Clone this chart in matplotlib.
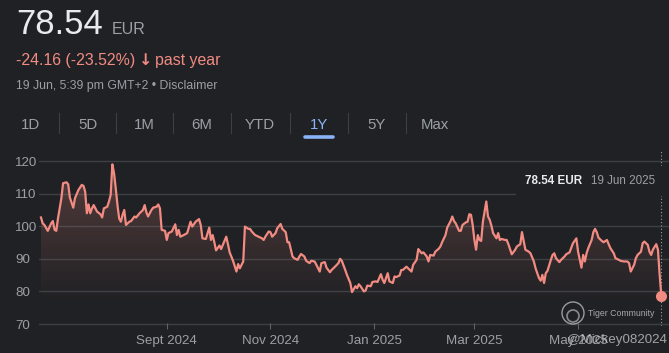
import numpy as np
import pandas as pd
import matplotlib
matplotlib.use('Agg')
import matplotlib.pyplot as plt
import matplotlib.dates as mdates
from matplotlib.patches import Rectangle, Circle

# price history (EUR)
dates = [
    '2024-06-19', '2024-06-20', '2024-06-21', '2024-06-23', '2024-06-25', '2024-06-26', '2024-06-27', '2024-06-28', '2024-06-29',
    '2024-07-01', '2024-07-02', '2024-07-04', '2024-07-05', '2024-07-06', '2024-07-08', '2024-07-09', '2024-07-11', '2024-07-13',
    '2024-07-14', '2024-07-15', '2024-07-16', '2024-07-17', '2024-07-18', '2024-07-19', '2024-07-20', '2024-07-22', '2024-07-24',
    '2024-07-25', '2024-07-26', '2024-07-28', '2024-07-29', '2024-07-30', '2024-07-31',
    '2024-08-01', '2024-08-02', '2024-08-03', '2024-08-04', '2024-08-05', '2024-08-06', '2024-08-07', '2024-08-08', '2024-08-10',
    '2024-08-11', '2024-08-13', '2024-08-14', '2024-08-16', '2024-08-18', '2024-08-19', '2024-08-20', '2024-08-21', '2024-08-23',
    '2024-08-24', '2024-08-26', '2024-08-27', '2024-08-28', '2024-08-29', '2024-08-31',
    '2024-09-01', '2024-09-02', '2024-09-04', '2024-09-06', '2024-09-07', '2024-09-08', '2024-09-09', '2024-09-11', '2024-09-13',
    '2024-09-15', '2024-09-16', '2024-09-18', '2024-09-20', '2024-09-21', '2024-09-22', '2024-09-24', '2024-09-26', '2024-09-27',
    '2024-09-28', '2024-09-29', '2024-09-30',
    '2024-10-02', '2024-10-03', '2024-10-04', '2024-10-06', '2024-10-07', '2024-10-08', '2024-10-10', '2024-10-12', '2024-10-13',
    '2024-10-14', '2024-10-16', '2024-10-17', '2024-10-19', '2024-10-20', '2024-10-21', '2024-10-23', '2024-10-25', '2024-10-27',
    '2024-10-28', '2024-10-29', '2024-10-31',
    '2024-11-01', '2024-11-02', '2024-11-04', '2024-11-05', '2024-11-07', '2024-11-08', '2024-11-10', '2024-11-11', '2024-11-12',
    '2024-11-14', '2024-11-15', '2024-11-17', '2024-11-18', '2024-11-19', '2024-11-21', '2024-11-22', '2024-11-24', '2024-11-25',
    '2024-11-27', '2024-11-28', '2024-11-30',
    '2024-12-01', '2024-12-03', '2024-12-04', '2024-12-06', '2024-12-07', '2024-12-09', '2024-12-11', '2024-12-12', '2024-12-13',
    '2024-12-15', '2024-12-16', '2024-12-18', '2024-12-19', '2024-12-21', '2024-12-22', '2024-12-23', '2024-12-24', '2024-12-26',
    '2024-12-27', '2024-12-28', '2024-12-30', '2024-12-31',
    '2025-01-02', '2025-01-03', '2025-01-05', '2025-01-06', '2025-01-07', '2025-01-09', '2025-01-10', '2025-01-12', '2025-01-13',
    '2025-01-14', '2025-01-16', '2025-01-17', '2025-01-18', '2025-01-20', '2025-01-21', '2025-01-23', '2025-01-24', '2025-01-26',
    '2025-01-27', '2025-01-29', '2025-01-30',
    '2025-02-01', '2025-02-02', '2025-02-03', '2025-02-05', '2025-02-06', '2025-02-08', '2025-02-09', '2025-02-10', '2025-02-12',
    '2025-02-13', '2025-02-15', '2025-02-16', '2025-02-17', '2025-02-18', '2025-02-20', '2025-02-21', '2025-02-22', '2025-02-24',
    '2025-02-25', '2025-02-26', '2025-02-27', '2025-02-28',
    '2025-03-01', '2025-03-02', '2025-03-03', '2025-03-04', '2025-03-05', '2025-03-06', '2025-03-07', '2025-03-08', '2025-03-09',
    '2025-03-10', '2025-03-11', '2025-03-12', '2025-03-14', '2025-03-15', '2025-03-16', '2025-03-17', '2025-03-19', '2025-03-20',
    '2025-03-21', '2025-03-23', '2025-03-25', '2025-03-26', '2025-03-28', '2025-03-29', '2025-03-30', '2025-03-31',
    '2025-04-02', '2025-04-03', '2025-04-05', '2025-04-06', '2025-04-08', '2025-04-09', '2025-04-10', '2025-04-11', '2025-04-12',
    '2025-04-13', '2025-04-15', '2025-04-16', '2025-04-17', '2025-04-18', '2025-04-20', '2025-04-21', '2025-04-23', '2025-04-24',
    '2025-04-26', '2025-04-27', '2025-04-28', '2025-04-30',
    '2025-05-01', '2025-05-02', '2025-05-03', '2025-05-04', '2025-05-05', '2025-05-06', '2025-05-07', '2025-05-09', '2025-05-10',
    '2025-05-11', '2025-05-12', '2025-05-13', '2025-05-15', '2025-05-16', '2025-05-18', '2025-05-19', '2025-05-20', '2025-05-22',
    '2025-05-23', '2025-05-25', '2025-05-26', '2025-05-28', '2025-05-30', '2025-05-31',
    '2025-06-01', '2025-06-03', '2025-06-04', '2025-06-05', '2025-06-07', '2025-06-08', '2025-06-09', '2025-06-11', '2025-06-12',
    '2025-06-13', '2025-06-14', '2025-06-16', '2025-06-17', '2025-06-18', '2025-06-19',
]
prices = [
    102.7, 100.9, 100.4, 98.6, 100.9, 101.6, 98.9, 98.6, 102.4,
    108.6, 113.2, 113.5, 112.9, 108.8, 105.7, 108.6, 111.1, 112.7,
    112.4, 110.6, 104.0, 106.7, 104.0, 105.5, 106.5, 104.5, 103.7,
    102.7, 105.5, 106.0, 107.6, 109.6, 119.0,
    116.2, 111.6, 106.5, 102.4, 101.4, 103.5, 105.0, 100.4, 101.4,
    101.6, 103.0, 102.7, 104.0, 105.0, 106.5, 104.3, 103.0, 105.0,
    105.7, 106.0, 106.7, 105.5, 98.9, 98.6,
    95.8, 97.9, 98.4, 100.6, 97.3, 98.9, 96.8, 97.3, 97.9,
    101.4, 99.9, 101.4, 102.2, 100.4, 96.3, 96.1, 99.6, 95.8,
    97.3, 95.1, 92.6,
    94.1, 93.0, 94.3, 96.8, 94.5, 92.0, 89.4, 86.1, 88.4,
    87.1, 89.2, 99.9, 99.2, 99.2, 98.4, 97.3, 96.8, 96.3,
    95.8, 96.8, 98.4,
    98.2, 96.8, 97.9, 99.4, 100.7, 99.2, 98.2, 95.1, 95.1,
    90.7, 90.2, 89.7, 90.7, 91.5, 90.7, 89.4, 88.7, 89.4,
    89.2, 88.2, 86.1,
    88.7, 89.0, 87.3, 85.9, 86.6, 87.6, 88.7, 90.0, 89.4,
    86.6, 85.1, 82.6, 79.8, 81.6, 81.0, 82.2, 81.6, 80.0,
    80.3, 81.8, 81.6, 82.9,
    83.1, 82.9, 85.3, 83.6, 82.6, 85.6, 83.1, 82.6, 84.6,
    84.4, 84.9, 86.6, 86.6, 87.6, 87.1, 86.1, 88.2, 89.7,
    93.0, 91.7, 92.0,
    90.7, 89.2, 91.2, 91.0, 92.2, 93.1, 93.8, 95.1, 97.3,
    99.6, 101.6, 103.0, 101.6, 100.9, 98.6, 98.6, 100.4, 101.2,
    101.4, 103.7, 103.5, 100.4,
    95.8, 92.8, 97.3, 95.8, 95.5, 101.4, 104.5, 107.6, 103.0,
    102.0, 100.2, 97.9, 96.3, 97.9, 95.8, 96.1, 95.8, 95.8,
    94.5, 91.4, 92.8, 93.8, 94.5, 98.2, 95.5, 92.8,
    92.2, 91.7, 89.2, 87.1, 84.1, 83.3, 85.1, 82.6, 85.6,
    86.3, 89.7, 91.2, 91.7, 90.2, 89.0, 89.7, 90.7, 91.4,
    92.0, 93.4, 94.8, 96.3,
    92.2, 89.7, 87.3, 91.2, 89.2, 91.7, 93.3, 95.8, 98.2,
    99.2, 98.2, 96.5, 95.5, 95.1, 95.8, 94.5, 93.3, 91.7,
    90.2, 89.7, 89.4, 89.2, 89.2, 88.7,
    86.1, 88.2, 90.2, 91.2, 92.2, 94.8, 95.3, 94.3, 92.2,
    91.2, 92.8, 94.5, 92.8, 85.1, 78.54,
]
yticks = [70, 80, 90, 100, 110, 120]
xtick_dates = ['2024-09-01', '2024-11-01', '2025-01-01', '2025-03-01', '2025-05-01']
xtick_labels = ['Sept 2024', 'Nov 2024', 'Jan 2025', 'Mar 2025', 'May 2025']
tabs = ['1D', '5D', '1M', '6M', 'YTD', '1Y', '5Y', 'Max']
active_tab = '1Y'

BG = '#202124'
GRID = '#3c4043'
MUTED = '#9aa0a6'
RED = '#f28b82'
BLUE = '#8ab4f8'
W, H = 669, 353

plt.rcParams['font.family'] = ['Liberation Sans', 'DejaVu Sans']

fig = plt.figure(figsize=(W / 100, H / 100), dpi=100, facecolor=BG)


def px(x, y):
    # pixel position (from top-left) -> figure fraction
    return x / W, 1 - y / H


# --- header ---
fig.text(*px(16, 34.5), '78.54', color='#e8eaed', fontsize=25, va='baseline')
fig.text(*px(112, 34.5), 'EUR', color=MUTED, fontsize=11.5, va='baseline')
fig.text(*px(16, 65), '-24.16 (-23.52%)', color=RED, fontsize=11.4, va='baseline')
fig.text(*px(139, 65), '\u2193', color=RED, fontsize=11.5, va='baseline',
         fontweight='bold', family=['DejaVu Sans'])
fig.text(*px(155, 65), 'past year', color=RED, fontsize=11.4, va='baseline')
fig.text(*px(16, 89), '19 Jun, 5:39 pm GMT+2 \u2022 Disclaimer', color=MUTED, fontsize=8.8, va='baseline')

tab_x = [30, 88, 144, 202, 260, 319, 377, 435]
for i, (t, x) in enumerate(zip(tabs, tab_x)):
    fig.text(*px(x, 128.5), t, color=BLUE if t == active_tab else MUTED,
             fontsize=10.8, ha='center', va='baseline')
    if i < len(tabs) - 1:
        sx = (x + tab_x[i + 1]) / 2
        fig.add_artist(plt.Line2D([sx / W] * 2, [1 - 113 / H, 1 - 133 / H], color=GRID, lw=0.8))
ux = tab_x[tabs.index(active_tab)]
fig.add_artist(plt.Line2D([(ux - 14) / W, (ux + 14) / W], [1 - 136.5 / H] * 2,
                          color=BLUE, lw=2.6, solid_capstyle='round'))

# --- chart ---
ax = fig.add_axes([39 / W, 27 / H, (W - 39) / W, 176 / H])
ax.set_facecolor(BG)

d = pd.to_datetime(dates)
y = np.array(prices)

ax.plot(d, y, color=RED, lw=1.6, zorder=4, solid_joinstyle='round')

# gradient fill under the line
poly = ax.fill_between(d, y, 60, color='none', lw=0)
grad = np.zeros((100, 1, 4))
grad[..., :3] = matplotlib.colors.to_rgb(RED)
grad[..., 3] = np.linspace(0.26, 0.0, 100)[:, None]
x0, x1 = mdates.date2num(d[0]), mdates.date2num(d[-1])
im = ax.imshow(grad, aspect='auto', extent=[x0, x1, 76, 120], origin='upper', zorder=2)
im.set_clip_path(poly.get_paths()[0], transform=ax.transData)

for v in yticks:
    ax.axhline(v, color=GRID, lw=1, zorder=1)

ax.set_ylim(69.4, 123.4)
ax.set_xlim(d[0] - pd.Timedelta(hours=28), d[-1] + pd.Timedelta(days=4.5))

ax.set_yticks(yticks)
ax.set_yticklabels([str(v) for v in yticks])
plt.setp(ax.get_yticklabels(), ha='left')
ax.tick_params(axis='y', length=0, pad=17.3, labelcolor=MUTED, labelsize=9.6)

ax.set_xticks(pd.to_datetime(xtick_dates))
ax.set_xticklabels(xtick_labels)
ax.tick_params(axis='x', direction='inout', length=5, width=0.8, color='#5f6368',
               pad=4, labelcolor=MUTED, labelsize=9.6)
for s in ax.spines.values():
    s.set_visible(False)

# hover marker at the last point
ax.axvline(d[-1], color=MUTED, lw=0.8, ls=(0, (1, 2)), zorder=3)
ax.plot(d[-1], y[-1], 'o', color=RED, ms=7, zorder=5)

# tooltip
fig.add_artist(Rectangle(px(516, 196), 153 / W, 30 / H, facecolor=BG, edgecolor='none', zorder=6))
fig.text(*px(525, 184), '78.54 EUR', color='#e8eaed', fontsize=8.4, fontweight='bold', va='baseline', zorder=7)
fig.text(*px(591, 184), '19 Jun 2025', color=MUTED, fontsize=8.4, va='baseline', zorder=7)

# watermark
fig.add_artist(Circle((5.73, (H - 313) / 100), 0.11, transform=fig.dpi_scale_trans, fill=False,
                      edgecolor='#d0d0d0', lw=1, alpha=0.7, zorder=6))
fig.add_artist(Circle((5.73, (H - 316) / 100), 0.06, transform=fig.dpi_scale_trans, fill=False,
                      edgecolor='#d0d0d0', lw=1.2, alpha=0.6, zorder=6))
fig.text(*px(588, 316), 'Tiger Community', color='#c8c8c8', fontsize=6.3, alpha=0.8, va='baseline', zorder=7)
fig.text(*px(567, 343), '@Mickey082024', color='#cfcfcf', fontsize=9.6, alpha=0.75, va='baseline', zorder=7)

fig.savefig('out.png', dpi=100, facecolor=BG)
